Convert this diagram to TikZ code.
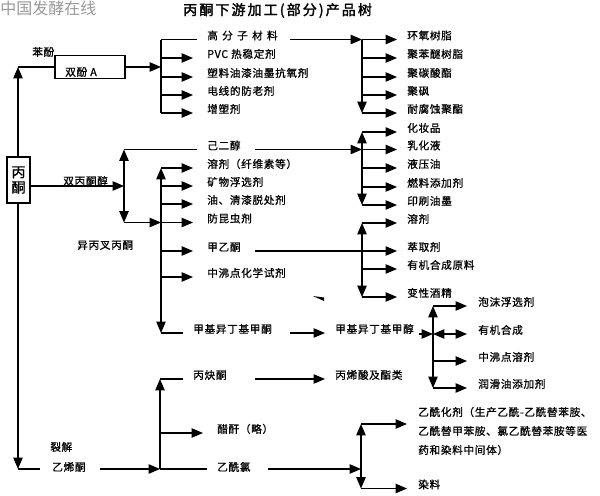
\documentclass[tikz,border=0pt]{standalone}
\usepackage{fontspec}
\usetikzlibrary{arrows.meta}
\newfontfamily\cjk[LetterSpace=6,FakeBold=0.8]{Noto Sans CJK SC}
\newfontfamily\cjkt[LetterSpace=15,FakeBold=2]{Noto Sans CJK SC}
\newfontfamily\cjkw{Noto Sans CJK SC}
\newfontfamily\cjkb[FakeBold=0.8]{Noto Sans CJK SC}
\tikzset{
  ln/.style={line width=0.9pt},
  arr/.style={ln,-{Triangle[length=8.5pt,width=7pt]}},
  darr/.style={ln,{Triangle[length=8.5pt,width=7pt]}-{Triangle[length=8.5pt,width=7pt]}},
  lbl/.style={anchor=base west,inner sep=0pt,font=\cjk\fontsize{8pt}{10pt}\selectfont},
  box/.style={draw,line width=0.9pt,inner sep=0pt},
}
\begin{document}
\begin{tikzpicture}[x=0.75pt,y=-0.75pt]
\useasboundingbox (0,0) rectangle (600,496);
\fill[white] (0,0) rectangle (600,496);
% titles
\node[anchor=base west,inner sep=0pt,text=black!40,font=\cjkw\fontsize{12pt}{14pt}\selectfont] (site) at (0,14.5) {中国发酵在线};
\node[anchor=base west,inner sep=0pt,font=\cjkt\fontsize{10.5pt}{12pt}\selectfont] (title) at (183,15) {丙酮下游加工(部分)产品树};
% boxes
\node[box,minimum width=52.5pt,minimum height=17.25pt] (bpa) at (90,67) {};
\node[lbl] (bpat) at (65,76) {双酚 A};
\node[lbl] (phenol) at (32,56) {苯酚};
\node[box,minimum width=17.25pt,minimum height=34.5pt,align=center,font=\cjkb\fontsize{10.5pt}{11.5pt}\selectfont] (acetone) at (18.5,180) {丙\\酮};
% main vertical
\coordinate (mtop) at (18,67);
\coordinate (mbot) at (18,469);
\draw[arr] (acetone.north -| mtop) -- (mtop);
\draw[ln] (mtop) -- (bpa.west);
\coordinate (j1) at (161,67);
\draw[arr] (bpa.east) -- (j1);
% group 1 left
\node[lbl] (g1a) at (207,39.5) {\addfontfeature{LetterSpace=40}高分子材料};
\node[lbl] (g1b) at (207,58) {PVC 热稳定剂};
\node[lbl] (g1c) at (207,77) {塑料油漆油墨抗氧剂};
\node[lbl] (g1d) at (207,95) {电线的防老剂};
\node[lbl] (g1e) at (207,113) {增塑剂};
\draw[ln] (j1 |- g1a.base) -- (j1 |- g1e.base);
\draw[ln] (j1 |- g1a.base) -- ([xshift=-7.5pt]g1a.base west);
\foreach \n in {g1b,g1c,g1d,g1e} \draw[arr] (j1 |- \n.base) -- ([xshift=-10.5pt]\n.base west);
% group 1 right
\node[lbl] (r1a) at (407,39.5) {环氧树脂};
\node[lbl] (r1b) at (407,58) {聚苯醚树脂};
\node[lbl] (r1c) at (407,77) {聚碳酸酯};
\node[lbl] (r1d) at (407,95) {聚砜};
\node[lbl] (r1e) at (407,113) {耐腐蚀聚酯};
\coordinate (g1ar) at (290,39.5);
\coordinate (j2) at (362,39.5);
\draw[arr] (g1ar) -- (j2);
\draw[arr] (j2) -- (j2 |- r1e.base);
\foreach \n in {r1a,r1b,r1c,r1d,r1e} \draw[arr] (j2 |- \n.base) -- ([xshift=-7.5pt]\n.base west);
% diacetone alcohol
\coordinate (j3) at (124,186);
\draw[arr] (acetone.east |- j3) -- (j3);
\node[lbl] (daa) at (63,185) {双丙酮醇};
\node[lbl] (hexd) at (207,149.5) {己二醇};
\coordinate (j4) at (161,222.5);
\draw[arr] (j3) -- (j3 |- hexd.base);
\draw[arr] (j3) -- (j3 |- j4);
\draw[ln] (j3 |- hexd.base) -- ([xshift=-7.5pt]hexd.base west);
\draw[arr] (j3 |- j4) -- (j4);
% group 2 left
\node[lbl] (s1) at (207,168) {溶剂（纤维素等）};
\node[lbl] (s2) at (207,186) {矿物浮选剂};
\node[lbl] (s3) at (207,204) {油、清漆脱处剂};
\node[lbl] (s4) at (207,222.5) {防昆虫剂};
\node[lbl] (mek) at (207,251) {甲乙酮};
\node[lbl] (s6) at (207,277) {中沸点化学试剂};
\node[lbl] (mibk) at (193,333) {甲基异丁基甲酮};
\node[lbl] (mo) at (77,249) {异丙叉丙酮};
\draw[arr] (j4) -- (j4 |- s1.base);
\draw[arr] (j4) -- (j4 |- mibk.base);
\foreach \n in {s1,s2,s3,s4,mek,s6} \draw[arr] (j4 |- \n.base) -- ([xshift=-10.5pt]\n.base west);
\draw[ln] (j4 |- mibk.base) -- ([xshift=-7.5pt]mibk.base west);
% group 2 right
\node[lbl] (r2a) at (407,132) {化妆品};
\node[lbl] (r2b) at (407,149.5) {乳化液};
\node[lbl] (r2c) at (407,168) {液压油};
\node[lbl] (r2d) at (407,187) {燃料添加剂};
\node[lbl] (r2e) at (407,205) {印刷油墨};
\coordinate (hexdr) at (255,149.5);
\coordinate (j5) at (362,149.5);
\draw[arr] (hexdr) -- (j5);
\draw[arr] (j5) -- (j5 |- r2a.base);
\draw[arr] (j5) -- (j5 |- r2e.base);
\foreach \n in {r2a,r2b,r2c,r2d,r2e} \draw[arr] (j5 |- \n.base) -- ([xshift=-7.5pt]\n.base west);
% group 3 right
\node[lbl] (r3a) at (407,223) {溶剂};
\node[lbl] (r3b) at (407,251) {萃取剂};
\node[lbl] (r3c) at (407,269) {有机合成原料};
\node[lbl] (r3d) at (407,297) {变性酒精};
\coordinate (mekr) at (255,251);
\coordinate (j6) at (362,251);
\draw[ln] (mekr) -- (j6);
\draw[arr] (j6) -- (j6 |- r3a.base);
\draw[arr] (j6) -- (j6 |- r3d.base);
\foreach \n in {r3a,r3b,r3c,r3d} \draw[arr] (j6 |- \n.base) -- ([xshift=-7.5pt]\n.base west);
\fill (313,296) -- (324,297.5) -- (324,301) -- cycle;
% MIBK
\node[lbl] (mibc) at (335,333) {甲基异丁基甲醇};
\coordinate (mibkr) at (290,333);
\draw[arr] (mibkr) -- ([xshift=-7.5pt]mibc.base west);
\coordinate (j7) at (433,334);
\coordinate (mibcr) at (419,334);
\draw[arr] (mibcr) -- (j7);
\node[lbl] (r4a) at (478,306) {泡沫浮选剂};
\node[lbl] (r4b) at (478,334) {有机合成};
\node[lbl] (r4c) at (478,361) {中沸点溶剂};
\node[lbl] (r4d) at (478,388) {润滑油添加剂};
\draw[arr] (j7) -- (j7 |- r4a.base);
\draw[arr] (j7) -- (j7 |- r4d.base);
\draw[darr] (j7) -- ([xshift=-8.25pt]r4b.base west);
\foreach \n in {r4a,r4c,r4d} \draw[arr] (j7 |- \n.base) -- ([xshift=-8.25pt]\n.base west);
% ketene
\draw[arr] (acetone.south -| mbot) -- (mbot);
\coordinate (ketl) at (40,469);
\draw[ln] (mbot) -- (ketl);
\node[lbl] (crack) at (50,451) {裂解};
\node[lbl] (ketene) at (52,471) {乙烯酮};
\coordinate (keter) at (100,469);
\coordinate (j8) at (160,469);
\draw[arr] (keter) -- (j8);
\node[lbl] (prop) at (193,379) {丙炔酮};
\node[lbl] (anh) at (217,433) {醋酐（略）};
\node[lbl] (acc) at (217,471) {乙酰氯};
\draw[arr] (j8) -- (j8 |- prop.base);
\draw[ln] (j8 |- prop.base) -- ([xshift=-7.5pt]prop.base west);
\draw[arr] (j8 |- anh.base) -- ([xshift=-10.5pt]anh.base west);
\coordinate (accl) at (207,469);
\draw[ln] (j8) -- (accl);
\node[lbl] (acry) at (335,379) {丙烯酸及酯类};
\coordinate (propr) at (255,379);
\draw[arr] (propr) -- ([xshift=-7.5pt]acry.base west);
\coordinate (accr) at (268,469);
\coordinate (j9) at (361,469);
\draw[arr] (accr) -- (j9);
\node[lbl,anchor=west,align=left,font=\cjk\fontsize{8pt}{14.25pt}\selectfont] (acyl) at (418,431) {乙酰化剂（生产乙酰-乙酰替苯胺、\\乙酰替甲苯胺、氯乙酰替苯胺等医\\药和染料中间体）};
\node[lbl] (dye) at (418,488.5) {染料};
\coordinate (j9t) at (361,424);
\draw[arr] (j9) -- (j9t);
\draw[arr] (j9) -- (j9 |- dye.base);
\draw[arr,shorten >=8.25pt] (j9t) -- (j9t -| acyl.west);
\draw[arr] (j9 |- dye.base) -- ([xshift=-8.25pt]dye.base west);
\end{tikzpicture}
\end{document}
